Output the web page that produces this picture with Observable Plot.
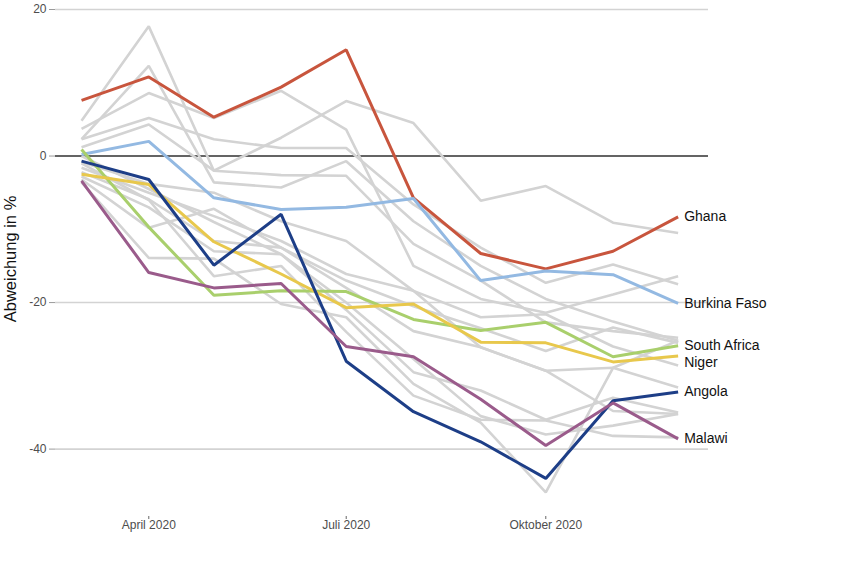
<!DOCTYPE html>
<html>
<head>
<meta charset="utf-8">
<script src="https://cdn.jsdelivr.net/npm/d3@7"></script>
<script src="https://cdn.jsdelivr.net/npm/@observablehq/plot@0.6"></script>
<style>
  html, body { margin: 0; padding: 0; background: white; }
  #chart { width: 850px; height: 567px; }
</style>
</head>
<body>
<div id="chart"></div>
<script>
// Months (first of month, March – December 2020)
const months = ["2020-03-01","2020-04-01","2020-05-01","2020-06-01","2020-07-01",
                "2020-08-01","2020-09-01","2020-10-01","2020-11-01","2020-12-01"];

// Highlighted countries
const countries = ["Ghana","Burkina Faso","South Africa","Niger","Angola","Malawi"];
const colors    = ["#c8553d","#93b9e2","#a9cf6c","#e8c84c","#1d3e87","#9a5b8b"];
const ghana       = [7.6, 10.8, 5.3, 9.4, 14.5, -5.7, -13.3, -15.4, -13.0, -8.3];
const burkinaFaso = [0.2, 2.0, -5.7, -7.3, -7.0, -5.8, -17.0, -15.7, -16.2, -20.1];
const southAfrica = [0.9, -9.7, -19.0, -18.4, -18.5, -22.3, -23.8, -22.7, -27.4, -25.9];
const niger       = [-2.5, -3.9, -11.7, -16.1, -20.7, -20.2, -25.4, -25.5, -28.1, -27.3];
const angola      = [-0.7, -3.2, -14.9, -7.95, -28.0, -34.9, -39.0, -44.0, -33.4, -32.2];
const malawi      = [-3.4, -15.9, -18.0, -17.4, -26.0, -27.4, -33.2, -39.5, -33.7, -38.6];
const hlValues = [ghana, burkinaFaso, southAfrica, niger, angola, malawi];

// Other countries (grey background lines)
const grey01 = [4.8, 17.7, -2.0, 2.5, 7.5, 4.5, -6.1, -4.1, -9.1, -10.5];
const grey02 = [3.7, 8.6, 5.2, 8.9, 3.6, -15.0, -19.5, -21.4, -18.9, -16.4];
const grey03 = [2.3, 5.2, 2.3, 1.1, 1.1, -6.6, -12.5, -17.3, -14.8, -17.5];
const grey04 = [2.3, 12.3, -3.6, -4.3, -0.7, -8.9, -15.0, -19.5, -22.6, -25.2];
const grey05 = [1.2, 4.3, -2.0, -2.6, -2.7, -12.0, -17.0, -22.7, -23.9, -24.8];
const grey06 = [-0.8, -3.8, -5.0, -8.9, -11.6, -18.4, -22.0, -21.6, -26.0, -28.6];
const grey07 = [-1.6, -5.0, -8.2, -11.6, -16.1, -18.4, -26.1, -29.3, -34.8, -35.2];
const grey08 = [-2.2, -5.9, -11.6, -12.5, -18.0, -23.9, -26.1, -29.3, -28.9, -31.6];
const grey09 = [-2.8, -7.0, -13.0, -13.4, -20.0, -27.7, -35.5, -38.0, -36.8, -35.2];
const grey10 = [-3.2, -9.8, -7.2, -12.5, -17.0, -20.5, -23.5, -26.6, -23.4, -25.5];
const grey11 = [-3.6, -13.9, -14.0, -20.2, -22.0, -31.1, -36.4, -45.9, -28.9, -25.2];
const grey12 = [-1.0, -6.0, -16.4, -15.0, -24.0, -32.7, -36.0, -36.1, -38.2, -38.4];
const grey13 = [0.0, -4.5, -9.0, -13.4, -21.0, -29.5, -32.0, -36.0, -33.0, -35.0];
const greyValues = [grey01, grey02, grey03, grey04, grey05, grey06, grey07,
                    grey08, grey09, grey10, grey11, grey12, grey13];

// Axis ticks
const yTicks = [20, 0, -20, -40];
const xTickDates = ["2020-04-01", "2020-07-01", "2020-10-01"];
const xTickLabels = ["April 2020", "Juli 2020", "Oktober 2020"];

// Build tidy rows
const greyRows = greyValues.flatMap((vals, k) =>
  vals.map((v, i) => ({date: new Date(months[i]), value: v, id: "g" + k})));
const hlRows = hlValues.flatMap((vals, k) =>
  vals.map((v, i) => ({date: new Date(months[i]), value: v, country: countries[k]})));
const lastIdx = months.length - 1;
const endRows = countries.map((c, k) => ({date: new Date(months[lastIdx]), value: hlValues[k][lastIdx], country: c}));
const xTicks = xTickDates.map(d => new Date(d));

const chart = Plot.plot({
  width: 850,
  height: 567,
  marginLeft: 55,
  marginRight: 142,
  marginTop: 9,
  marginBottom: 51,
  style: {fontFamily: "'Liberation Sans', Arial, Helvetica, sans-serif", background: "white", overflow: "visible"},
  x: {type: "utc", domain: [new Date("2020-02-18"), new Date("2020-12-15")]},
  y: {domain: [-49.2, 20]},
  color: {domain: countries, range: colors},
  marks: [
    Plot.gridY(yTicks, {stroke: "#d3d3d3", strokeOpacity: 1, strokeWidth: 1.6}),
    Plot.ruleY([0], {stroke: "#3b3b3b", strokeWidth: 1.6}),
    Plot.axisY(yTicks, {tickSize: 6, tickPadding: 3, tickFormat: d => String(d),
      fontSize: 12, stroke: "#9a9a9a", fill: "#4d4d4d", label: null}),
    Plot.axisX(xTicks, {tickSize: 3, tickPadding: 1,
      tickFormat: d => xTickLabels[xTicks.findIndex(t => +t === +d)],
      fontSize: 12, stroke: "#666", fill: "#4d4d4d", label: null}),
    Plot.line(greyRows, {x: "date", y: "value", z: "id", stroke: "#d3d3d3", strokeWidth: 2.6,
      strokeLinejoin: "miter", strokeLinecap: "butt"}),
    Plot.line(hlRows, {x: "date", y: "value", z: "country", stroke: "country", strokeWidth: 3,
      strokeLinejoin: "miter", strokeLinecap: "butt"}),
    Plot.text(endRows.filter(d => d.country !== "Niger"), {x: "date", y: "value", text: "country",
      textAnchor: "start", dx: 6, fontSize: 14, fill: "#111"}),
    Plot.text(endRows.filter(d => d.country === "Niger"), {x: "date", y: "value", text: "country",
      textAnchor: "start", dx: 6, dy: 6, fontSize: 14, fill: "#111"}),
    Plot.text(["Abweichung in %"], {frameAnchor: "left", textAnchor: "middle", rotate: -90,
      dx: -45, dy: -4, fontSize: 16.5, fill: "#111"})
  ]
});
document.getElementById("chart").appendChild(chart);
</script>
</body>
</html>
